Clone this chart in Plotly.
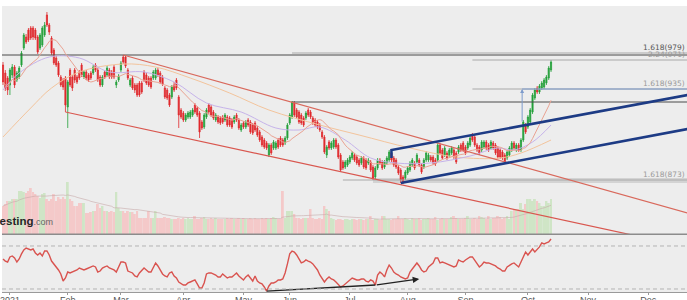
import plotly.graph_objects as go
import pandas as pd

# ---------------- data ----------------
opens = [
    965,957,952,945,955,963,950,953,965,982,
    993,1000,1002,1002,1000,993,982,985,995,1015,
    1005,992,980,972,967,953,950,952,923,960,
    953,960,953,958,965,953,958,955,957,957,
    965,960,953,945,958,955,960,958,963,945,
    950,960,973,973,960,945,952,945,945,947,
    947,958,955,952,952,952,952,960,957,953,
    942,940,935,933,945,950,933,920,917,910,
    913,913,915,925,922,917,908,903,913,925,
    923,918,910,913,912,913,910,913,912,910,
    908,915,910,900,907,903,910,908,905,907,
    902,898,893,890,887,875,885,882,882,890,
    892,890,887,892,907,913,927,920,918,915,
    912,912,920,918,912,910,908,905,898,893,
    875,888,882,883,890,885,875,868,863,865,
    868,872,875,873,870,867,872,870,867,868,
    863,853,862,870,868,863,867,870,877,872,
    870,863,860,853,852,857,860,865,867,868,
    870,865,863,870,870,873,873,870,870,885,
    880,875,877,874,877,880,877,878,885,887,
    883,882,885,895,893,885,883,880,883,888,
    885,882,887,885,882,880,878,875,872,875,
    880,887,880,885,880,890,905,903,908,918,
    932,942,938,942,943,947,952,960]
closes = [
    948,942,940,960,963,945,957,962,977,995,
    988,990,992,993,992,978,995,1002,1005,1005,
    998,977,967,965,955,945,943,925,948,945,
    942,950,948,952,955,958,952,950,952,963,
    960,950,945,953,953,962,953,953,953,948,
    954,967,968,964,952,950,942,940,935,935,
    938,950,947,945,943,958,960,955,948,946,
    933,932,925,943,940,942,915,913,910,915,
    917,918,920,918,915,898,902,915,920,918,
    915,912,915,908,907,908,915,905,905,903,
    913,910,902,905,903,908,905,898,897,900,
    895,890,885,883,882,885,877,888,887,883,
    885,885,892,905,915,928,915,913,908,907,
    905,917,915,913,907,905,903,900,893,878,
    883,882,887,890,883,873,860,862,868,870,
    873,877,870,867,865,872,863,862,870,860,
    852,862,870,867,862,868,872,878,870,865,
    863,857,850,848,858,862,867,870,862,875,
    865,858,870,877,875,870,867,866,885,877,
    872,882,872,880,882,873,868,883,880,880,
    877,887,892,890,885,880,877,888,888,882,
    880,888,882,877,873,873,872,868,878,882,
    887,882,885,880,890,908,898,913,920,935,
    940,938,944,947,950,953,962,968]
highs = [
    968,960,954,962,966,965,959,964,979,997,
    996,1002,1004,1004,1002,995,997,1004,1008,1018,
    1007,994,982,974,969,955,952,954,950,962,
    955,962,955,960,967,960,960,957,959,965,
    967,962,955,955,960,964,962,960,965,950,
    956,969,975,974,962,952,954,947,947,949,
    949,960,957,954,954,960,962,962,959,955,
    944,942,937,945,948,952,935,922,919,917,
    919,920,922,927,924,919,910,917,922,927,
    925,920,917,915,914,915,917,915,914,912,
    915,917,912,907,909,910,912,910,907,909,
    904,900,895,892,889,887,887,890,889,892,
    894,892,894,907,917,929,929,922,920,917,
    914,919,922,920,914,912,910,907,900,895,
    885,890,889,892,892,887,877,870,870,872,
    875,879,877,875,872,874,874,872,872,870,
    865,864,872,872,870,870,874,880,879,874,
    872,865,862,855,860,864,869,872,869,877,
    872,867,872,879,877,875,875,872,887,887,
    882,884,879,882,884,882,879,885,887,889,
    885,889,894,897,895,887,885,890,890,890,
    887,890,889,887,884,882,880,877,880,884,
    889,889,887,887,892,910,907,915,922,937,
    942,944,946,949,952,955,964,970]
lows = [
    945,939,935,935,952,942,948,951,963,980,
    986,988,990,990,990,976,980,983,993,1003,
    995,975,965,963,953,943,940,918,902,943,
    939,947,946,950,953,951,950,948,950,955,
    958,948,943,943,951,953,951,951,951,942,
    948,958,966,962,950,943,940,937,933,933,
    936,948,945,943,941,950,950,953,946,944,
    931,930,923,931,938,940,902,911,908,908,
    911,911,913,916,913,892,900,901,911,916,
    913,910,908,906,905,906,908,903,903,901,
    906,908,900,898,901,901,903,896,895,898,
    893,888,883,881,880,873,875,880,880,881,
    883,883,885,890,905,911,913,911,906,905,
    903,910,913,911,905,903,901,898,891,876,
    872,880,880,881,881,871,858,860,861,863,
    866,870,868,865,863,865,861,860,865,858,
    850,851,860,865,860,861,865,868,868,863,
    861,855,847,846,850,855,858,863,860,866,
    863,856,861,868,868,868,865,864,868,875,
    870,873,870,872,875,871,866,876,878,878,
    875,880,883,888,883,878,875,878,881,880,
    878,880,880,875,871,871,870,866,870,873,
    878,880,878,878,878,888,896,901,906,916,
    930,936,936,940,941,945,950,958]
volumes = [  # hundreds of thousands
    28,30,33,33,35,35,35,43,43,42,
    41,43,46,42,40,38,36,40,41,35,
    33,35,40,33,37,35,37,35,52,35,
    33,28,28,31,31,31,21,21,22,23,
    23,30,26,28,23,23,22,23,22,42,
    26,23,23,21,23,22,22,20,23,16,
    16,16,16,23,16,16,23,16,16,16,
    17,16,16,15,15,15,16,15,16,15,
    16,15,15,18,15,15,16,17,15,15,
    16,15,16,15,15,15,15,16,15,16,
    15,15,16,15,16,15,15,16,15,16,
    15,15,16,15,16,15,16,17,16,15,
    15,43,16,23,23,23,20,16,16,15,
    16,16,16,25,16,15,15,16,15,28,
    25,23,16,15,14,15,15,14,15,15,
    14,15,15,14,15,15,14,15,15,18,
    14,15,15,14,18,18,15,15,14,15,
    15,18,15,15,16,15,14,16,15,15,
    16,14,15,15,16,15,15,17,14,15,
    16,15,15,15,17,18,16,15,15,15,
    16,18,15,15,16,15,18,17,16,15,
    18,15,16,16,18,17,15,16,18,15,
    23,25,25,25,31,25,30,35,35,33,
    35,33,31,28,28,33,31,35]
rsi = [
    57.9,56.0,55.1,59.8,60.7,58.8,55.1,57.9,62.6,66.3,
    68.1,67.2,66.3,67.2,63.5,61.6,63.5,60.7,65.3,65.3,
    61.6,56.0,53.3,50.5,47.7,44.0,37.4,40.2,45.8,44.9,
    45.8,46.7,47.7,49.5,48.6,47.7,48.6,49.5,50.5,51.4,
    50.5,45.8,46.7,49.5,50.5,51.4,49.5,48.6,47.7,45.8,
    51.4,55.1,55.1,54.2,46.7,45.8,44.9,42.1,41.2,44.9,
    47.7,49.5,47.7,45.8,45.8,50.5,54.2,51.4,47.7,44.0,
    42.1,41.2,44.9,45.8,42.1,40.2,36.5,34.7,33.7,33.7,
    35.6,36.5,37.4,38.4,34.7,30.9,30.9,35.6,44.0,44.9,
    44.9,44.0,43.0,41.2,41.2,44.0,42.1,40.2,41.2,41.2,
    43.0,44.9,42.1,40.2,38.4,41.2,43.0,40.2,37.4,42.1,
    37.4,35.6,34.7,31.9,28.1,32.8,35.6,35.6,36.5,38.4,
    38.4,39.3,44.9,53.3,62.6,65.3,64.4,61.6,57.9,54.2,
    55.1,57.0,56.0,55.1,53.3,50.5,47.7,43.0,40.2,36.5,
    39.3,41.2,39.3,38.4,36.5,33.7,31.9,32.8,34.7,36.5,
    38.4,40.2,39.3,38.4,38.4,39.3,39.3,37.4,36.5,38.4,
    37.4,33.7,43.0,45.8,44.0,41.2,47.7,52.3,49.5,45.8,
    44.0,43.0,41.2,40.2,39.3,40.2,45.8,48.6,51.4,54.2,
    51.4,47.7,45.8,46.7,50.5,52.3,54.2,58.8,58.8,54.2,
    55.1,54.2,53.3,52.3,51.4,50.5,51.4,57.0,56.0,55.1,
    57.0,58.8,59.8,59.8,57.0,53.3,50.5,52.3,55.1,54.2,
    54.2,53.3,52.3,51.4,49.5,48.6,46.7,46.7,50.5,52.3,
    53.3,54.2,52.3,50.5,55.1,59.8,64.4,61.6,64.4,67.2,
    64.4,66.3,69.1,72.8,71.9,72.8,73.7,76.5]

month_tick_idx = [3, 28, 51, 78, 104, 124, 150, 175, 200, 227, 253, 279]
month_labels = ["2021", "Feb", "Mar", "Apr", "May", "Jun", "Jul", "Aug",
                "Sep", "Oct", "Nov", "Dec"]

# moving averages read at sample candles
ma_long_idx = [0, 12, 21, 33, 52, 66, 81, 98, 115, 137, 154, 176, 196, 215, 224, 237]
ma_long_val = [893, 922, 942, 958, 966, 963, 952, 937, 920, 905, 895, 882, 873, 872, 877, 890]
ma_mid_idx = [0, 7, 20, 33, 46, 61, 74, 88, 103, 118, 128, 137, 148, 159, 170, 185, 202, 214, 221, 229, 237]
ma_mid_val = [940, 957, 973, 972, 958, 958, 948, 927, 918, 902, 900, 903, 890, 872, 867, 867, 874, 882, 880, 888, 905]

# drawings
resistance_level = 975
peak_level = 928
peak_start_idx = 125
fib_levels = [977, 970, 941, 850]
fib_start_idx = [125, 203, 203, 147]
fib_texts = ["1.618(979)", "2.24(971)", "1.618(935)", "1.618(873)"]
fib_band = [847, 852]
fib_band_start_idx = 160
target_idx = 224.5
target_from, target_to = 907, 941
falling_upper_idx, falling_upper_val = [52, 296], [975, 817]
falling_lower_idx, falling_lower_val = [27, 296], [918, 783]
rising_upper_idx, rising_upper_val = [168, 168, 296], [872, 880, 935]
rising_lower_idx, rising_lower_val = [172, 296], [847, 901]
rsi_div_idx = [114, 161, 180]
rsi_div_val = [28.1, 33.7, 39.3]

# ---------------- figure ----------------
idx = list(range(len(closes)))
X_END = 296
UP, DOWN = "#23a03a", "#e0282c"
UP_V, DOWN_V = "#cfe5c6", "#f4c9c9"

short_ma = pd.Series(closes).rolling(15, min_periods=1).mean()
vol_ma = pd.Series(volumes).rolling(20, min_periods=1).mean()
vol_colors = [UP_V if c >= o else DOWN_V for o, c in zip(opens, closes)]

fig = go.Figure()

# volume (bottom of main panel)
fig.add_trace(go.Bar(x=idx, y=volumes, marker_color=vol_colors, marker_line_width=0,
                     width=0.85, xaxis="x", yaxis="y2"))
fig.add_trace(go.Scatter(x=idx, y=vol_ma, mode="lines", xaxis="x", yaxis="y2",
                         line=dict(color="rgba(200,170,170,0.6)", width=1)))

# channel / level lines on price axis
def pline(xs, ys, color, width, dash=None):
    fig.add_trace(go.Scatter(x=xs, y=ys, mode="lines", xaxis="x", yaxis="y3",
                             line=dict(color=color, width=width, dash=dash)))

pline([-2, X_END], [resistance_level] * 2, "#4a4a4a", 1)
pline([peak_start_idx, X_END], [peak_level] * 2, "#4a4a4a", 1)
for lv, st in zip(fib_levels, fib_start_idx):
    pline([st, X_END], [lv, lv], "#a9a9a9", 1)
pline([target_idx, X_END], [fib_levels[2]] * 2, "#7d9bcc", 1)

# moving averages
fig.add_trace(go.Scatter(x=ma_long_idx, y=ma_long_val, mode="lines", xaxis="x", yaxis="y3",
                         line=dict(color="#f3c49c", width=1, shape="spline", smoothing=1)))
fig.add_trace(go.Scatter(x=ma_mid_idx, y=ma_mid_val, mode="lines", xaxis="x", yaxis="y3",
                         line=dict(color="#c6b3ea", width=1, shape="spline", smoothing=1)))
fig.add_trace(go.Scatter(x=idx, y=short_ma, mode="lines", xaxis="x", yaxis="y3",
                         line=dict(color="#eaa393", width=1)))

pline(falling_upper_idx, falling_upper_val, "#d9695c", 1.2)
pline(falling_lower_idx, falling_lower_val, "#d9574f", 1.2)

# candles
fig.add_trace(go.Candlestick(
    x=idx, open=opens, high=highs, low=lows, close=closes, xaxis="x", yaxis="y3",
    increasing=dict(line=dict(color=UP, width=0.8), fillcolor=UP),
    decreasing=dict(line=dict(color=DOWN, width=0.8), fillcolor=DOWN),
    whiskerwidth=0))

pline(rising_upper_idx, rising_upper_val, "#1d3b85", 2.6)
pline(rising_lower_idx, rising_lower_val, "#1d3b85", 2.6)

# RSI
fig.add_trace(go.Scatter(x=idx, y=rsi, mode="lines", xaxis="x", yaxis="y",
                         line=dict(color="#d9534f", width=1.4)))
fig.add_trace(go.Scatter(x=rsi_div_idx[:2], y=rsi_div_val[:2], mode="lines", xaxis="x", yaxis="y",
                         line=dict(color="#222222", width=1.3)))

shapes = [
    dict(type="rect", xref="x", yref="y3", x0=fib_band_start_idx, x1=X_END,
         y0=fib_band[0], y1=fib_band[1], fillcolor="#d3d3d3", line=dict(width=0), layer="below"),
    dict(type="line", xref="paper", yref="y", x0=0, x1=1, y0=70, y1=70,
         line=dict(color="#b3b3b3", width=1, dash="4px,3px")),
    dict(type="line", xref="paper", yref="y", x0=0, x1=1, y0=30, y1=30,
         line=dict(color="#b3b3b3", width=1, dash="4px,3px")),
    dict(type="line", xref="paper", yref="paper", x0=0, x1=1, y0=0.2015, y1=0.2015,
         line=dict(color="#8c8c8c", width=1.5)),
]

annotations = []
fib_colors = ["#555555", "#9a9a9a", "#9a9a9a", "#9a9a9a"]
for lv, txt, col in zip(fib_levels, fib_texts, fib_colors):
    annotations.append(dict(xref="paper", yref="y3", x=1, y=lv, xanchor="right", yanchor="bottom",
                            text=txt, showarrow=False, yshift=-1,
                            font=dict(family="DejaVu Sans", size=7.5, color=col)))
annotations.append(dict(xref="x", yref="y3", x=target_idx, y=target_to, ax=target_idx, ay=target_from,
                        axref="x", ayref="y3", showarrow=True, arrowhead=2, arrowsize=0.8,
                        arrowwidth=1, arrowcolor="#7d9bcc", text=""))
annotations.append(dict(xref="x", yref="y", x=rsi_div_idx[2], y=rsi_div_val[2],
                        ax=rsi_div_idx[1], ay=rsi_div_val[1], axref="x", ayref="y",
                        showarrow=True, arrowhead=2, arrowsize=1, arrowwidth=1.3,
                        arrowcolor="#222222", text=""))
annotations.append(dict(xref="paper", yref="paper", x=0.077, y=0.25, xanchor="right", yanchor="middle",
                        showarrow=False,
                        text="<b>Investing</b><span style='font-size:9px;color:#666'>.com</span>",
                        font=dict(family="Liberation Sans, Arial", size=11.5, color="#262626")))

fig.update_layout(
    width=687, height=300,
    margin=dict(l=2, r=0, t=6, b=8, autoexpand=False),
    paper_bgcolor="white", plot_bgcolor="#ededed",
    showlegend=False,
    xaxis=dict(range=[-0.43, 295.8], anchor="y", tickmode="array", automargin=False,
               tickvals=month_tick_idx, ticktext=month_labels,
               showgrid=False, zeroline=False, showline=True, linecolor="#9a9a9a",
               ticks="outside", ticklen=2, tickcolor="#9a9a9a", ticklabelstandoff=-3,
               ticklabeloverflow="allow",
               tickfont=dict(family="Liberation Sans, Arial", size=9, color="#555555"),
               rangeslider=dict(visible=False)),
    yaxis=dict(domain=[0, 0.1993], range=[27.2, 80.2], showgrid=False, zeroline=False,
               showticklabels=False, fixedrange=True, automargin=False),
    yaxis2=dict(domain=[0.2028, 1], range=[0, 228], showgrid=False, zeroline=False,
                showticklabels=False, automargin=False),
    yaxis3=dict(overlaying="y2", range=[796, 1024], showgrid=False, zeroline=False,
                showticklabels=False, automargin=False),
    shapes=shapes, annotations=annotations,
)

fig.write_html("out.html", include_plotlyjs=True, config={"displayModeBar": False},
               post_script="document.body.style.margin='0px';document.body.style.padding='0px';")
